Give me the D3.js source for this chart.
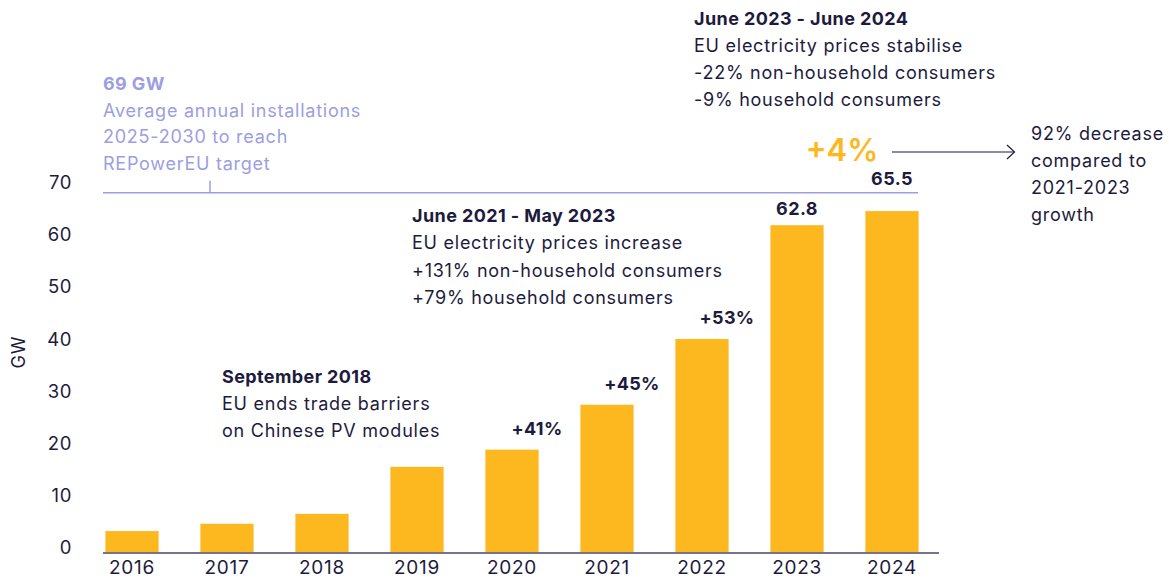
<!DOCTYPE html>
<html><head><meta charset="utf-8">
<script src="https://cdn.jsdelivr.net/npm/d3@7"></script>
<style>
body{margin:0;background:#fff;}
svg{display:block;font-family:Inter, "DejaVu Sans", sans-serif;}
</style></head>
<body>
<svg id="chart" width="1169" height="581"></svg>
<script>
const years = ["2016","2017","2018","2019","2020","2021","2022","2023","2024"];
const installs = [4.2, 5.6, 7.5, 16.5, 19.8, 28.4, 41.0, 62.8, 65.5];
const yTicks = [0,10,20,30,40,50,60,70];
const growthYears = ["2020","2021","2022"];
const growthLabels = ["+41%","+45%","+53%"];
const valueLabelYears = ["2023","2024"];
const target = 69;
const targetLines = ["69 GW","Average annual installations","2025-2030 to reach","REPowerEU target"];
const note2018 = ["September 2018","EU ends trade barriers","on Chinese PV modules"];
const note2021 = ["June 2021 - May 2023","EU electricity prices increase","+131% non-household consumers","+79% household consumers"];
const note2023 = ["June 2023 - June 2024","EU electricity prices stabilise","-22% non-household consumers","-9% household consumers"];
const lastGrowth = "+4%";
const decreaseNote = ["92% decrease","compared to","2021-2023","growth"];

const dark = "#1d1b3d", lav = "#9c9ee2", barC = "#fdb71f";
const svg = d3.select("#chart");
const x = d3.scaleBand().domain(years).range([84.5, 939.5]).paddingInner(0.44).paddingOuter(0.22);
const y = d3.scaleLinear().domain([0,70]).range([553, 187.6]);

// bars
svg.append("g").selectAll("rect").data(years).join("rect")
  .attr("x", d => x(d)).attr("width", x.bandwidth())
  .attr("y", (d,i) => y(installs[i])).attr("height", (d,i) => y(0) - y(installs[i]))
  .attr("fill", barC);

// baseline
svg.append("line").attr("x1",103).attr("x2",939).attr("y1",y(0)).attr("y2",y(0))
  .attr("stroke","#76748c").attr("stroke-width",2);

// y axis
const yAxis = d3.axisLeft(y).tickValues(yTicks).tickSize(0).tickPadding(0);
const yg = svg.append("g").attr("transform","translate(72,-5)").call(yAxis);
yg.select(".domain").remove();
yg.selectAll("text").attr("fill",dark).style("font-size","18.5px").style("letter-spacing","0.6px")
  .style("font-family","Inter, sans-serif");

// x axis
const xAxis = d3.axisBottom(x).tickSize(0).tickPadding(0);
const xg = svg.append("g").attr("transform","translate(0,560)").call(xAxis);
xg.select(".domain").remove();
xg.selectAll("text").attr("fill",dark).style("font-size","19px").style("letter-spacing","0.7px")
  .style("font-family","Inter, sans-serif");

// GW label
svg.append("text").attr("transform","translate(25,352) rotate(-90)").attr("text-anchor","middle")
  .attr("fill",dark).style("font-size","18px").style("letter-spacing","1px").text("GW");

// target line
svg.append("line").attr("x1",103).attr("x2",918).attr("y1",y(target)).attr("y2",y(target))
  .attr("stroke",lav).attr("stroke-width",1.5);
svg.append("line").attr("x1",210).attr("x2",210).attr("y1",y(target)-12).attr("y2",y(target))
  .attr("stroke",lav).attr("stroke-width",1.5);

function block(lines, x0, y0, lh, color, boldFirst){
  const t = svg.append("text").attr("fill", color).style("font-size","18px");
  lines.forEach((l,i) => {
    const b = boldFirst && i===0;
    t.append("tspan").attr("x",x0).attr("y",y0+i*lh).text(l)
      .style("font-weight", b ? 700 : 400)
      .style("letter-spacing", b ? "0.4px" : "0.75px");
  });
}
block(targetLines, 103, 90, 26.7, lav, true);
block(note2018, 222, 383, 27, dark, true);
block(note2021, 412, 222, 27.3, dark, true);
block(note2023, 694, 25, 27, dark, true);
block(decreaseNote, 1031, 140, 27, dark, false);

// growth labels
svg.append("g").selectAll("text").data(growthYears).join("text")
  .attr("x", d => x(d) + x.bandwidth()*0.97)
  .attr("y", d => y(installs[years.indexOf(d)]) - 15)
  .attr("text-anchor","middle").attr("fill",dark)
  .style("font-size","18px").style("font-weight",700).style("letter-spacing","0.3px")
  .text((d,i) => growthLabels[i]);

// value labels
svg.append("g").selectAll("text").data(valueLabelYears).join("text")
  .attr("x", d => x(d) + x.bandwidth()/2)
  .attr("y", d => {
    const top = y(installs[years.indexOf(d)]);
    return (top - 26 > y(target)) ? top - 10 : y(target) - 8;
  })
  .attr("text-anchor","middle").attr("fill",dark)
  .style("font-size","18px").style("font-weight",700).style("letter-spacing","0.4px")
  .text(d => installs[years.indexOf(d)].toFixed(1));

// +4%
svg.append("text").attr("x",842).attr("y",161).attr("text-anchor","middle")
  .attr("fill",barC).style("font-size","31px").style("font-weight",600).text(lastGrowth);

// arrow
svg.append("line").attr("x1",892).attr("x2",1014).attr("y1",152).attr("y2",152)
  .attr("stroke",dark).attr("stroke-width",1.2);
svg.append("path").attr("d","M1007,145 L1014.5,152 L1007,159").attr("fill","none")
  .attr("stroke",dark).attr("stroke-width",1.2);
</script>
</body></html>
